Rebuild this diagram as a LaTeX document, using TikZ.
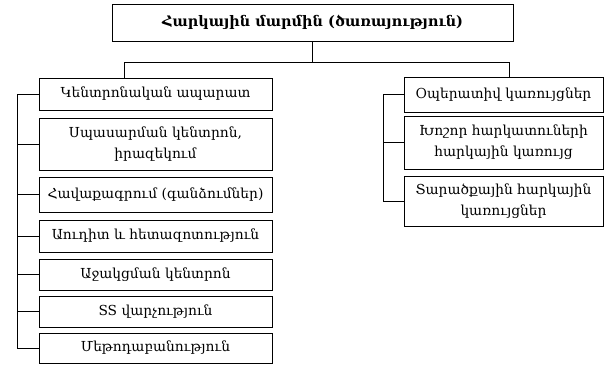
\documentclass[tikz,border=0pt]{standalone}
\usepackage{fontspec}
\setmainfont{DejaVu Serif}
\begin{document}
\begin{tikzpicture}[x=1pt,y=-1pt,
  box/.style={draw, line width=1pt, rectangle, align=center, inner sep=2pt,
    font=\fontsize{13.8}{21}\selectfont},
  lbox/.style={box, minimum width=233pt},
  rbox/.style={box, minimum width=199pt},
  wire/.style={line width=1pt}]
\useasboundingbox (0,0) rectangle (610,364);

% head box
\node[box, minimum width=401pt, minimum height=37pt,
  font=\bfseries\fontsize{14.5}{18}\selectfont] (top) at (312.5,22.5)
  {Հարկային մարմին (ծառայություն)};

% left column
\node[lbox, minimum height=32pt] (L1) at (155.5,94) {Կենտրոնական ապարատ};
\node[lbox, minimum height=52pt] (L2) at (155.5,144) {Սպասարման կենտրոն,\\իրազեկում};
\node[lbox, minimum height=35pt] (L3) at (155.5,194.5) {Հավաքագրում (գանձումներ)};
\node[lbox, minimum height=32pt] (L4) at (155.5,236) {Աուդիտ և հետազոտություն};
\node[lbox, minimum height=31pt] (L5) at (155.5,274.5) {Աջակցման կենտրոն};
\node[lbox, minimum height=31pt] (L6) at (155.5,311.5) {SS վարչություն};
\node[lbox, minimum height=30pt] (L7) at (155.5,348) {Մեթոդաբանություն};

% right column
\node[rbox, minimum height=35pt] (R1) at (503.5,94.5) {Օպերատիվ կառույցներ};
\node[rbox, minimum height=53pt] (R2) at (503.5,142.5) {Խոշոր հարկատուների\\հարկային կառույց};
\node[rbox, minimum height=50pt] (R3) at (503.5,201) {Տարածքային հարկային\\կառույցներ};

% bus under the head box
\coordinate (busL) at (124,62);
\coordinate (busR) at (509,62);
\draw[wire] (top.south) -- (top.south |- busL);
\draw[wire] (L1.north -| busL) -- (busL) -- (busR) -- (R1.north -| busR);

% left spine
\coordinate (spL) at (17,0);
\draw[wire] (L1.west) -- (L1.west -| spL) -- (L7.west -| spL) -- (L7.west);
\foreach \n in {L2,L3,L4,L5,L6}
  \draw[wire] (\n.west) -- (\n.west -| spL);

% right spine
\coordinate (spR) at (383,0);
\draw[wire] (R1.west) -- (R1.west -| spR) -- (R3.west -| spR) -- (R3.west);
\draw[wire] (R2.west) -- (R2.west -| spR);
\end{tikzpicture}
\end{document}
